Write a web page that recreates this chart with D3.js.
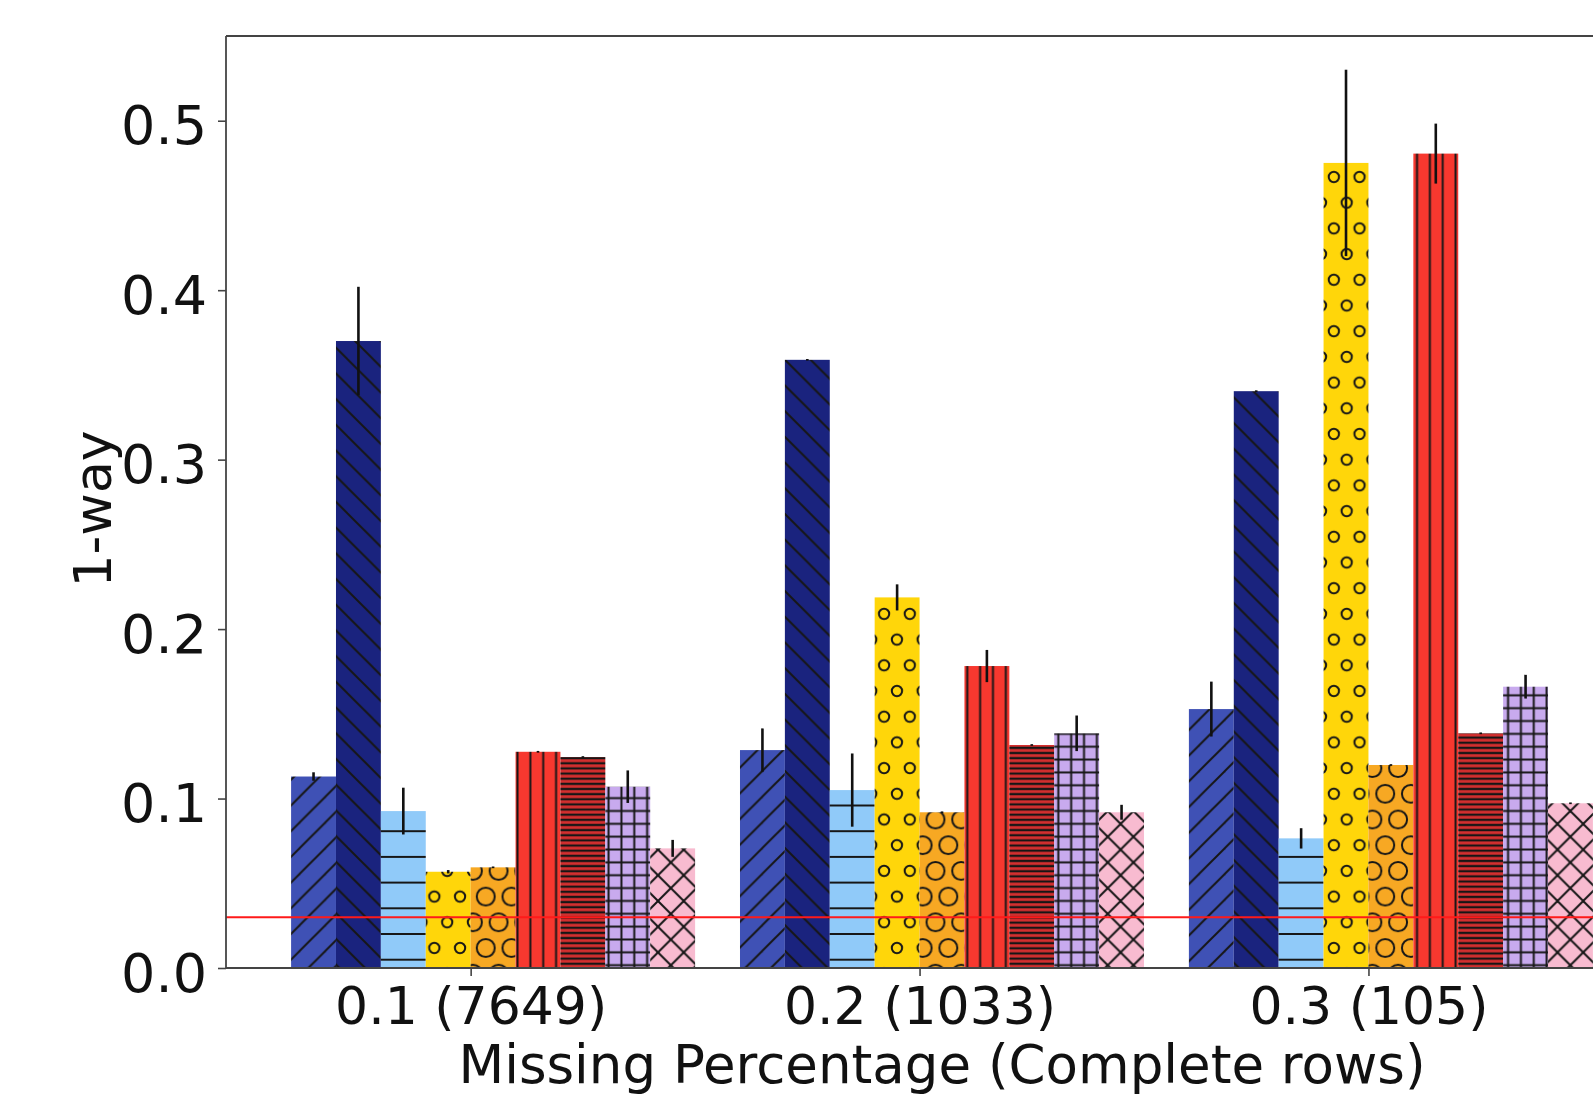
<!DOCTYPE html>
<html>
<head>
<meta charset="utf-8">
<script src="https://cdn.jsdelivr.net/npm/d3@7"></script>
<style>
  html, body { margin: 0; padding: 0; background: #fff; overflow: hidden; }
  svg { display: block; }
</style>
</head>
<body>
<svg id="chart"></svg>
<script>
// ---- data ----
const groupLabels = ["0.1 (7649)", "0.2 (1033)", "0.3 (105)"];
const yTickValues = [0.0, 0.1, 0.2, 0.3, 0.4, 0.5];

// mean score of each of the nine methods, per missing-percentage group
const meansG1 = [0.113, 0.370, 0.0926, 0.0568, 0.0594, 0.1276, 0.1245, 0.107, 0.0706];
const meansG2 = [0.1286, 0.3589, 0.105, 0.2187, 0.0919, 0.1782, 0.1316, 0.1385, 0.0919];
const meansG3 = [0.1528, 0.3404, 0.0765, 0.4751, 0.1198, 0.4806, 0.1385, 0.166, 0.0972];

// half-length of each error bar
const errG1 = [0.0025, 0.032, 0.0138, 0.001, 0.0005, 0.0005, 0.0005, 0.0096, 0.005];
const errG2 = [0.0128, 0.0005, 0.0216, 0.0077, 0.0005, 0.0095, 0.0005, 0.0105, 0.0044];
const errG3 = [0.0162, 0.0005, 0.006, 0.055, 0.0005, 0.0177, 0.0005, 0.007, 0.0005];

const referenceLevel = 0.03;
const xAxisTitle = "Missing Percentage (Complete rows)";
const yAxisTitle = "1-way";

// ---- styling ----
const barColors = ["#3F51B5", "#1A237E", "#90CAF9", "#FFD60A", "#F7A823",
                   "#F7382F", "#D32F2F", "#C8AAEE", "#F8BBD0"];
const hatchKinds = ["/", "\\", "-", "o", "O", "||", "-----", "++", "x"];

const W = 1593, H = 1094;
const plotLeft = 226, plotRight = 1658, plotTop = 36, plotBottom = 968;
const FONT = "DejaVu Sans, Verdana, sans-serif";
const U = 25.7;          // hatch spacing
const HATCH = "#161616";
const HATCH_W = 2;

const meansByGroup = [meansG1, meansG2, meansG3];
const errByGroup = [errG1, errG2, errG3];
const barWidth = 0.1;

const x = d3.scaleLinear().domain([-0.545, 2.645]).range([plotLeft, plotRight]);
const y = d3.scaleLinear().domain([0, 0.55]).range([plotBottom, plotTop]);

const svg = d3.select("#chart").attr("width", W).attr("height", H);
const defs = svg.append("defs");

// ---- hatch patterns ----
function pattern(id, color, w, h, px, py, draw) {
  const p = defs.append("pattern")
    .attr("id", id)
    .attr("patternUnits", "userSpaceOnUse")
    .attr("x", px).attr("y", py)
    .attr("width", w).attr("height", h);
  p.append("rect").attr("width", w).attr("height", h).attr("fill", color);
  const g = p.append("g").attr("fill", "none").attr("stroke", HATCH).attr("stroke-width", HATCH_W);
  draw(g, w, h);
}
function diagUp(g) {      // lines x + y = c
  [0, U, 2 * U].forEach(c => g.append("line")
    .attr("x1", c - U - 2).attr("y1", U + 2).attr("x2", c + 2).attr("y2", -2));
}
function diagDown(g) {    // lines x - y = c
  [-U, 0, U].forEach(c => g.append("line")
    .attr("x1", c - 2).attr("y1", -2).attr("x2", c + U + 2).attr("y2", U + 2));
}
function circles(g, r) {
  [[0, 0], [U, 0], [0, 2 * U], [U, 2 * U], [U / 2, U]].forEach(([cx, cy]) =>
    g.append("circle").attr("cx", cx).attr("cy", cy).attr("r", r));
}

const drawers = {
  "/": { w: U, h: U, px: 17, py: 0, f: g => diagUp(g) },
  "\\": { w: U, h: U, px: 14, py: 0, f: g => diagDown(g) },
  "-": { w: U, h: U, px: 0, py: -4.05, f: g => g.append("line").attr("x1", -1).attr("x2", U + 1).attr("y1", U / 2).attr("y2", U / 2) },
  "o": { w: U, h: 2 * U, px: 10.3, py: -2.9, f: g => circles(g, 0.2 * U) },
  "O": { w: U, h: 2 * U, px: 10.3, py: -2.9, f: g => circles(g, 0.35 * U) },
  "||": { w: U / 2, h: U / 2, px: -2.9, py: 0, f: g => g.append("line").attr("x1", U / 4).attr("x2", U / 4).attr("y1", -1).attr("y2", U / 2 + 1) },
  "-----": { w: U, h: U / 5, px: 0, py: 0, f: g => g.append("line").attr("x1", -1).attr("x2", U + 1).attr("y1", U / 10).attr("y2", U / 10).attr("stroke-width", 2.2) },
  "++": { w: U / 2, h: U / 2, px: -1.8, py: -5, f: g => {
      g.append("line").attr("x1", U / 4).attr("x2", U / 4).attr("y1", -1).attr("y2", U / 2 + 1);
      g.append("line").attr("x1", -1).attr("x2", U / 2 + 1).attr("y1", U / 4).attr("y2", U / 4);
    } },
  "x": { w: U, h: U, px: 15.5, py: 1.5, f: g => { diagUp(g); diagDown(g); } }
};

hatchKinds.forEach((k, i) => {
  const d = drawers[k];
  pattern("hatch" + i, barColors[i], d.w, d.h, d.px, d.py, d.f);
});

// ---- bars ----
const barData = [];
meansByGroup.forEach((means, gi) => {
  means.forEach((v, si) => {
    barData.push({ g: gi, s: si, v: v, e: errByGroup[gi][si] });
  });
});

const bars = svg.append("g");
bars.selectAll("rect").data(barData).enter().append("rect")
  .attr("x", d => x(d.g + (d.s - 4) * barWidth))
  .attr("width", d => x(d.g + (d.s - 3) * barWidth) - x(d.g + (d.s - 4) * barWidth))
  .attr("y", d => y(d.v))
  .attr("height", d => y(0) - y(d.v))
  .attr("fill", d => `url(#hatch${d.s})`);

// ---- reference level ----
svg.append("line")
  .attr("x1", plotLeft).attr("x2", plotRight)
  .attr("y1", y(referenceLevel)).attr("y2", y(referenceLevel))
  .attr("stroke", "#FF1A1A").attr("stroke-width", 2);

// ---- error bars ----
svg.append("g").selectAll("line").data(barData).enter().append("line")
  .attr("x1", d => x(d.g + (d.s - 3.5) * barWidth))
  .attr("x2", d => x(d.g + (d.s - 3.5) * barWidth))
  .attr("y1", d => y(d.v + d.e))
  .attr("y2", d => y(d.v - d.e))
  .attr("stroke", "#111").attr("stroke-width", 2.6);

// ---- spines ----
const spine = svg.append("g").attr("stroke", "#444").attr("stroke-width", 1.8).attr("fill", "none");
spine.append("line").attr("x1", plotLeft).attr("x2", plotLeft).attr("y1", plotTop).attr("y2", plotBottom);
spine.append("line").attr("x1", plotLeft).attr("x2", plotRight).attr("y1", plotTop).attr("y2", plotTop);
spine.append("line").attr("x1", plotLeft).attr("x2", plotRight).attr("y1", plotBottom).attr("y2", plotBottom);
spine.append("line").attr("x1", plotRight).attr("x2", plotRight).attr("y1", plotTop).attr("y2", plotBottom);

// ---- axes ----
const yAxis = d3.axisLeft(y).tickValues(yTickValues).tickFormat(d3.format(".1f"))
  .tickSize(8).tickSizeOuter(0).tickPadding(11);
const gy = svg.append("g").attr("transform", `translate(${plotLeft},0)`).call(yAxis);
gy.select(".domain").remove();
gy.selectAll(".tick line").attr("stroke", "#444").attr("stroke-width", 1.6);
gy.selectAll(".tick text")
  .attr("font-family", FONT).attr("font-size", 54).attr("fill", "#111")
  .attr("dy", 23);

const xAxis = d3.axisBottom(x).tickValues([0, 1, 2]).tickFormat(i => groupLabels[i])
  .tickSize(8).tickSizeOuter(0).tickPadding(10);
const gx = svg.append("g").attr("transform", `translate(0,${plotBottom})`).call(xAxis);
gx.select(".domain").remove();
gx.selectAll(".tick line").attr("stroke", "#444").attr("stroke-width", 1.6);
gx.selectAll(".tick text")
  .attr("font-family", FONT).attr("font-size", 52).attr("fill", "#111")
  .attr("y", 56).attr("dy", 0);

// ---- axis titles ----
svg.append("text")
  .attr("x", (plotLeft + plotRight) / 2).attr("y", 1083)
  .attr("text-anchor", "middle")
  .attr("font-family", FONT).attr("font-size", 53).attr("fill", "#111")
  .text(xAxisTitle);

svg.append("text")
  .attr("transform", `translate(111,509) rotate(-90)`)
  .attr("text-anchor", "middle")
  .attr("font-family", FONT).attr("font-size", 52).attr("fill", "#111")
  .text(yAxisTitle);
</script>
</body>
</html>
